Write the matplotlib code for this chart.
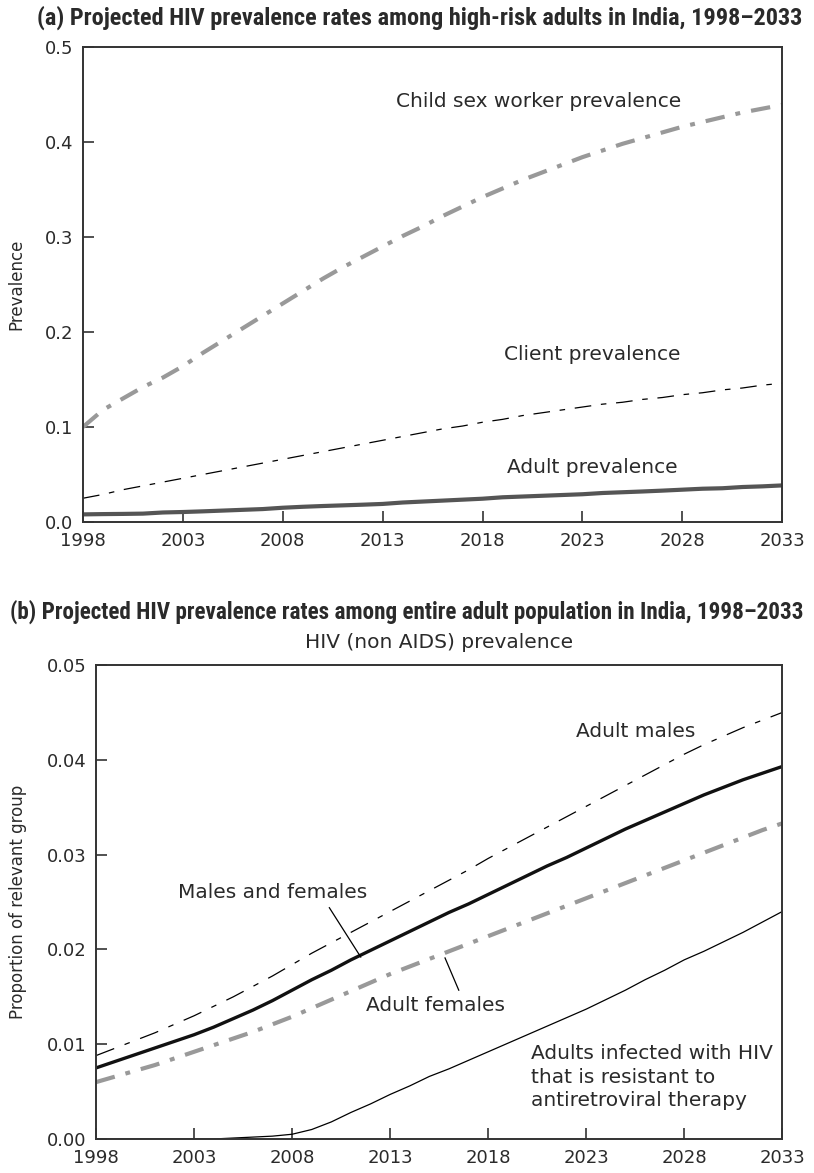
import numpy as np
import matplotlib
matplotlib.use("Agg")
import matplotlib.pyplot as plt
from matplotlib import font_manager

plt.rcParams["font.family"] = ["DejaVu Sans"]
plt.rcParams["lines.scale_dashes"] = False

# look for a narrow bold face for the panel titles
names = {f.name for f in font_manager.fontManager.ttflist}
title_font = "Lato"
for cand in ["Roboto Condensed", "Liberation Sans Narrow", "Open Sans Condensed", "Lato"]:
    if cand in names:
        title_font = cand
        break

years = np.arange(1998, 2034)
tick_years = [1998, 2003, 2008, 2013, 2018, 2023, 2028, 2033]

# panel (a)
child_sw = [0.100, 0.118, 0.130, 0.142, 0.152, 0.164, 0.178, 0.191, 0.204, 0.217,
            0.230, 0.243, 0.256, 0.268, 0.279, 0.290, 0.301, 0.311, 0.322, 0.332,
            0.342, 0.351, 0.360, 0.368, 0.376, 0.384, 0.391, 0.398, 0.404, 0.410,
            0.416, 0.421, 0.426, 0.431, 0.435, 0.439]
client = [0.025, 0.029, 0.034, 0.038, 0.042, 0.046, 0.050, 0.054, 0.058, 0.062,
          0.066, 0.070, 0.074, 0.078, 0.082, 0.086, 0.090, 0.094, 0.098, 0.101,
          0.105, 0.108, 0.112, 0.115, 0.118, 0.121, 0.124, 0.126, 0.129, 0.131,
          0.134, 0.136, 0.139, 0.141, 0.144, 0.146]
adult = [0.0080, 0.0083, 0.0085, 0.0088, 0.0100, 0.0105, 0.0112, 0.0120, 0.0128, 0.0136,
         0.0150, 0.0160, 0.0168, 0.0175, 0.0182, 0.0190, 0.0205, 0.0215, 0.0225, 0.0235,
         0.0245, 0.0260, 0.0268, 0.0276, 0.0284, 0.0292, 0.0305, 0.0313, 0.0321, 0.0330,
         0.0340, 0.0350, 0.0355, 0.0368, 0.0375, 0.0385]

# panel (b)
males = [0.0088, 0.0096, 0.0104, 0.0112, 0.0121, 0.0130, 0.0140, 0.0150, 0.0161, 0.0172,
         0.0184, 0.0196, 0.0207, 0.0218, 0.0229, 0.0240, 0.0251, 0.0262, 0.0273, 0.0284,
         0.0296, 0.0307, 0.0318, 0.0329, 0.0340, 0.0351, 0.0362, 0.0373, 0.0384, 0.0395,
         0.0406, 0.0416, 0.0425, 0.0434, 0.0442, 0.0450]
both = [0.0075, 0.0082, 0.0089, 0.0096, 0.0103, 0.0110, 0.0118, 0.0127, 0.0136, 0.0146,
        0.0157, 0.0168, 0.0178, 0.0189, 0.0199, 0.0209, 0.0219, 0.0229, 0.0239, 0.0248,
        0.0258, 0.0268, 0.0278, 0.0288, 0.0297, 0.0307, 0.0317, 0.0327, 0.0336, 0.0345,
        0.0354, 0.0363, 0.0371, 0.0379, 0.0386, 0.0393]
females = [0.0060, 0.0066, 0.0072, 0.0078, 0.0085, 0.0092, 0.0099, 0.0106, 0.0113, 0.0121,
           0.0129, 0.0138, 0.0147, 0.0156, 0.0165, 0.0174, 0.0182, 0.0190, 0.0198, 0.0206,
           0.0214, 0.0222, 0.0230, 0.0238, 0.0246, 0.0254, 0.0262, 0.0270, 0.0278, 0.0286,
           0.0294, 0.0302, 0.0310, 0.0318, 0.0326, 0.0333]
resistant = [0, 0, 0, 0, 0, 0, 0, 0.0001, 0.0002, 0.0003,
             0.0005, 0.0010, 0.0018, 0.0028, 0.0037, 0.0047, 0.0056, 0.0066, 0.0074, 0.0083,
             0.0092, 0.0101, 0.0110, 0.0119, 0.0128, 0.0137, 0.0147, 0.0157, 0.0168, 0.0178,
             0.0189, 0.0198, 0.0208, 0.0218, 0.0229, 0.0240]

light = "#999999"
dark = "#555555"
text_c = "#2a2a2a"
fs_note = 14.5


def style_axes(ax, yticks, ylabels):
    ax.set_xlim(1998, 2033)
    ax.set_xticks(tick_years)
    ax.set_yticks(yticks)
    ax.set_yticklabels(ylabels)
    ax.tick_params(direction="in", length=8, width=1.2, color="#333333",
                   labelsize=13, labelcolor=text_c, pad=7)
    for s in ax.spines.values():
        s.set_color("#333333")
        s.set_linewidth(1.4)


def fit_title(t, x0, x1):
    # shrink/grow the title so it spans the same width as in the original
    r = fig.canvas.get_renderer()
    w = t.get_window_extent(r).width
    t.set_fontsize(t.get_fontsize() * (x1 - x0) / w)
    t.set_x((x0 + x1) / 2 / 814)


fig = plt.figure(figsize=(8.14, 11.73), dpi=100)

# ---- (a)
ax1 = fig.add_axes([0.102, 0.555, 0.859, 0.405])
ax1.plot(years, child_sw, color=light, lw=3, dashes=(14, 8, 3.5, 8))
ax1.plot(years, client, color="black", lw=0.9, dashes=(12, 7, 4, 7))
ax1.plot(years, adult, color=dark, lw=3)
ax1.set_ylim(0, 0.5)
style_axes(ax1, [0, 0.1, 0.2, 0.3, 0.4, 0.5], ["0.0", "0.1", "0.2", "0.3", "0.4", "0.5"])
ax1.set_ylabel("Prevalence", fontsize=12, color=text_c, labelpad=14)
ax1.text(2020.8, 0.443, "Child sex worker prevalence", fontsize=fs_note, color=text_c,
         ha="center", va="center")
ax1.text(2023.5, 0.176, "Client prevalence", fontsize=fs_note, color=text_c,
         ha="center", va="center")
ax1.text(2023.5, 0.057, "Adult prevalence", fontsize=fs_note, color=text_c,
         ha="center", va="center")
ta = fig.text(0.5, 1 - 18 / 1173,
              "(a) Projected HIV prevalence rates among high-risk adults in India, 1998\u20132033",
              ha="center", va="center", fontsize=14, fontweight="bold",
              family=title_font, color=text_c)

# ---- (b)
ax2 = fig.add_axes([0.118, 0.029, 0.843, 0.404])
ax2.plot(years, males, color="black", lw=0.9, dashes=(14, 8, 4, 8))
ax2.plot(years, females, color=light, lw=3, dashes=(14, 8, 3.5, 8))
ax2.plot(years, both, color="#111111", lw=2.4)
ax2.plot(years, resistant, color="black", lw=0.9)
ax2.set_ylim(0, 0.05)
style_axes(ax2, [0, 0.01, 0.02, 0.03, 0.04, 0.05],
           ["0.00", "0.01", "0.02", "0.03", "0.04", "0.05"])
ax2.set_ylabel("Proportion of relevant group", fontsize=12, color=text_c, labelpad=14)
ax2.text(2025.5, 0.043, "Adult males", fontsize=fs_note, color=text_c, ha="center", va="center")
ax2.text(2007, 0.026, "Males and females", fontsize=fs_note, color=text_c, ha="center", va="center")
ax2.plot([2009.9, 2011.5], [0.0244, 0.0192], color="black", lw=0.9)
ax2.text(2015.3, 0.0141, "Adult females", fontsize=fs_note, color=text_c, ha="center", va="center")
ax2.plot([2015.8, 2016.5], [0.0191, 0.0157], color="black", lw=0.9)
ax2.text(2020.2, 0.0065, "Adults infected with HIV\nthat is resistant to\nantiretroviral therapy",
         fontsize=fs_note, color=text_c, ha="left", va="center", linespacing=1.3)
ax2.set_title("HIV (non AIDS) prevalence", fontsize=fs_note, color=text_c, pad=12)
tb = fig.text(0.5, 1 - 612 / 1173,
              "(b) Projected HIV prevalence rates among entire adult population in India, 1998\u20132033",
              ha="center", va="center", fontsize=14, fontweight="bold",
              family=title_font, color=text_c)

fit_title(ta, 36, 804)
fit_title(tb, 8, 806)

fig.savefig("out.png", dpi=100)
